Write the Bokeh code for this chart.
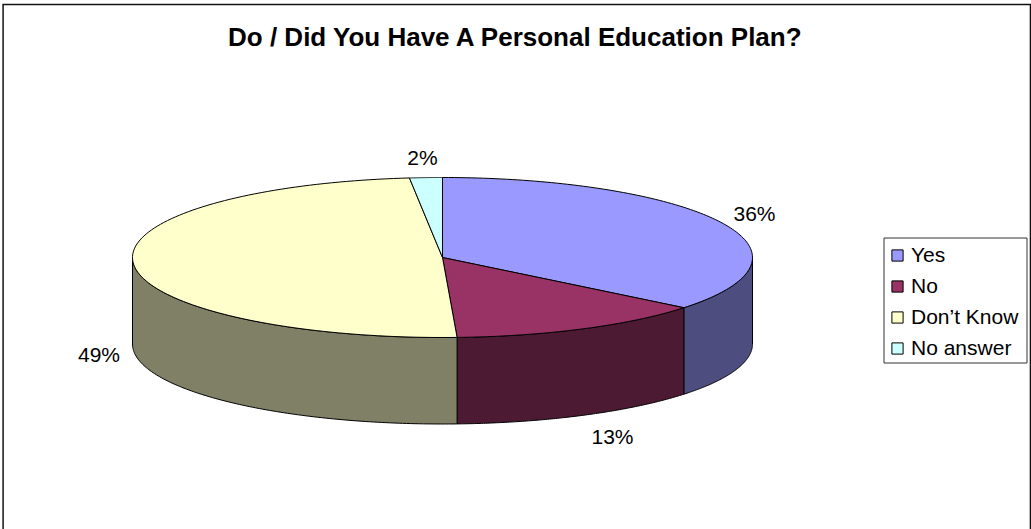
import numpy as np
from bokeh.core.properties import value
from bokeh.embed import file_html
from bokeh.models import Legend, LegendItem
from bokeh.plotting import figure
from bokeh.resources import INLINE

title = "Do / Did You Have A Personal Education Plan?"
categories = ["Yes", "No", "Don\u2019t Know", "No answer"]
shares = [35.8, 13.45, 49.05, 1.7]
labels = ["36%", "13%", "49%", "2%"]
top_colors = ["#9999FF", "#993366", "#FFFFCC", "#CCFFFF"]
side_colors = ["#4D4D80", "#4D1A33", "#808066", "#668080"]

label_x = [754, 612, 98.5, 422]
label_y = [213, 436, 354, 157]

CX, CY, RX, RY, DEPTH = 442.0, 257.0, 310.0, 80.0, 86.5
FONT = "Liberation Sans"


def arc(a0, a1):
    t = np.radians(np.linspace(a0, a1, 120))
    return CX + RX * np.sin(t), CY - RY * np.cos(t)


p = figure(width=1031, height=529, x_range=(0, 1031), y_range=(529, 0),
           output_backend="svg", toolbar_location=None, min_border=0,
           background_fill_color="white", border_fill_color="white",
           outline_line_color=None, margin=0)
p.xaxis.visible = False
p.yaxis.visible = False
p.grid.visible = False

# chart-area frame (its bottom edge lies outside the photographed page)
p.line([2.6, 2.6], [4, 529], line_color="#222222", line_width=1.6)
p.line([2, 1031], [4, 4], line_color="#111111", line_width=1.6)
p.line([1030, 1030], [4, 529], line_color="#111111", line_width=1.6)

edges = np.cumsum([0.0] + shares) / sum(shares) * 360.0

# front walls
for i in range(len(shares)):
    a0, a1 = max(edges[i], 90.0), min(edges[i + 1], 270.0)
    if a1 <= a0:
        continue
    x, y = arc(a0, a1)
    p.patch(np.r_[x, x[::-1]], np.r_[y, y[::-1] + DEPTH],
            fill_color=side_colors[i], line_color="black", line_width=1)

# top faces
items = []
for i, name in enumerate(categories):
    x, y = arc(edges[i], edges[i + 1])
    r = p.patch(np.r_[CX, x], np.r_[CY, y], fill_color=top_colors[i],
                line_color="black", line_width=1)
    items.append(LegendItem(label=name, renderers=[r]))

p.text(label_x, label_y, text=labels, text_font=value(FONT),
       text_font_size="21px", text_color="black",
       text_align="center", text_baseline="middle")
p.text([515.5], [36], text=[title], text_font=value(FONT),
       text_font_style="bold", text_font_size="26px", text_color="black",
       text_align="center", text_baseline="middle")

# legend box, with the legend's own rows placed inside it
p.quad(left=[883.5], right=[1026.5], top=[237.5], bottom=[362.5],
       fill_color="white", line_color="#333333", line_width=1)
legend = Legend(items=items, location=(890, 529 - 360), orientation="vertical",
                glyph_width=14, glyph_height=14, label_height=21, label_standoff=7,
                spacing=7, padding=0, margin=0,
                label_text_font=FONT, label_text_font_size="21px",
                label_text_color="black", border_line_color=None,
                background_fill_alpha=0)
p.add_layout(legend, "center")

open("out.html", "w").write(file_html(p, INLINE))
